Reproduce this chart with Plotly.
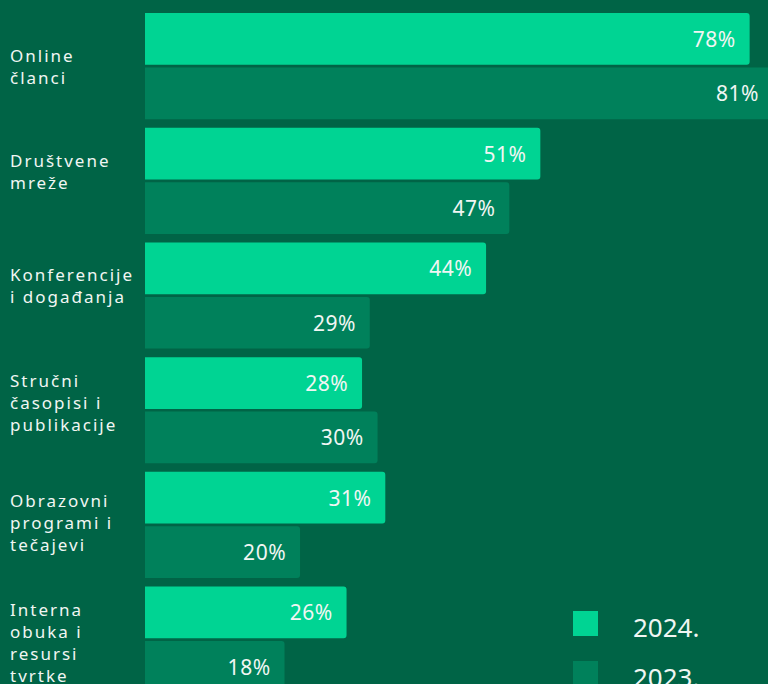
import plotly.graph_objects as go

# Sources of professional information, share of respondents (%)
categories = [
    "Online<br>članci",
    "Društvene<br>mreže",
    "Konferencije<br>i događanja",
    "Stručni<br>časopisi i<br>publikacije",
    "Obrazovni<br>programi i<br>tečajevi",
    "Interna<br>obuka i<br>resursi<br>tvrtke",
]
years = ["2024.", "2023."]
values_2024 = [78, 51, 44, 28, 31, 26]
values_2023 = [81, 47, 29, 30, 20, 18]

BG = "#006446"
LIGHT = "#00d493"
DARK = "#00815b"
TEXT = "#f1f6f3"
FONT = "Noto Sans, DejaVu Sans, sans-serif"

X_MAX = 80.37
label_nudge = [0, 9, 10, 8, 2, -3]


def spaced(s, px):
    return "<br>".join(
        f'<span style="letter-spacing:{px}px">{part}</span>' for part in s.split("<br>")
    )


fig = go.Figure()
for name, vals, col in [(years[0], values_2024, LIGHT), (years[1], values_2023, DARK)]:
    fig.add_trace(go.Bar(
        y=categories,
        x=vals,
        orientation="h",
        name=name,
        marker=dict(color=col, line=dict(width=0), cornerradius=3),
        text=[f'<span style="letter-spacing:0.5px">{v}%</span>\u00a0\u00a0' for v in vals],
        textposition="inside",
        insidetextanchor="end",
        textfont=dict(family=FONT, size=21, color=TEXT),
        textangle=0,
        constraintext="none",
        showlegend=False,
        hoverinfo="skip",
    ))

# category labels, left aligned
for cat, dy in zip(categories, label_nudge):
    fig.add_annotation(
        x=0, xref="paper", xshift=-137, xanchor="left",
        y=cat, yref="y", yshift=dy, yanchor="middle",
        text=spaced(cat, 2.0), align="left", showarrow=False,
        font=dict(family=FONT, size=17, color=TEXT),
    )

# legend
legend_items = [(years[0], LIGHT, 611), (years[1], DARK, 661)]
W, H, L = 768, 684, 145
for label, col, top in legend_items:
    fig.add_shape(
        type="rect", xref="paper", yref="paper",
        x0=(573 - L) / (W - L), x1=(598 - L) / (W - L),
        y0=1 - (top + 25) / H, y1=1 - top / H,
        fillcolor=col, line=dict(width=0), layer="above",
    )
    fig.add_annotation(
        x=(631 - L) / (W - L), xref="paper", xanchor="left",
        y=1 - (top + 16) / H, yref="paper", yanchor="middle",
        text=label, showarrow=False,
        font=dict(family=FONT, size=26, color=TEXT),
    )

fig.update_layout(
    width=W, height=H,
    margin=dict(l=L, r=0, t=0, b=0),
    paper_bgcolor=BG, plot_bgcolor=BG,
    barmode="group", bargap=0.0514, bargroupgap=0.0496,
    xaxis=dict(range=[0, X_MAX], visible=False, fixedrange=True),
    yaxis=dict(range=[5.387, -0.5767], showticklabels=False, showgrid=False,
               zeroline=False, ticks="", fixedrange=True),
)

fig.write_html("out.html", config={"displayModeBar": False})
